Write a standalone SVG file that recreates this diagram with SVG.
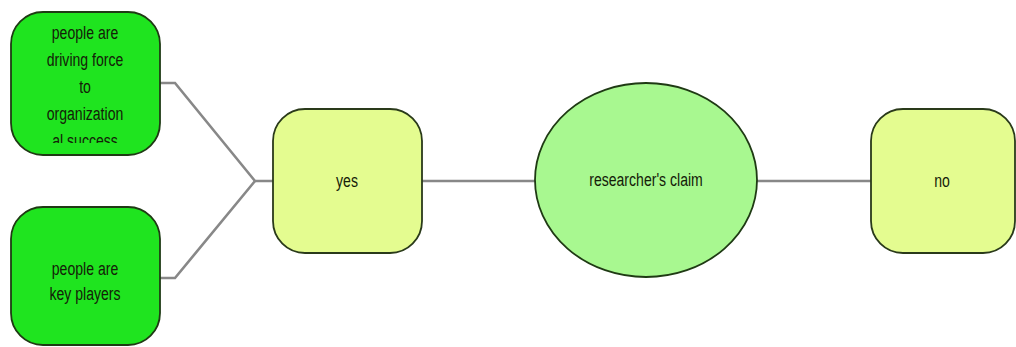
<svg xmlns="http://www.w3.org/2000/svg" width="1016" height="347" viewBox="0 0 1016 347">
  <style>
    .bright { fill: #1fe41f; stroke: #1f3a14; stroke-width: 1.8; }
    .pale { fill: #e4fc90; stroke: #2a3a1a; stroke-width: 1.8; }
    .oval { fill: #a8f890; stroke: #1f3a14; stroke-width: 1.8; }
    .link { fill: none; stroke: #888888; stroke-width: 2.6; }
    .label { font-family: "Liberation Sans", Arial, sans-serif; font-size: 19px; fill: #142008; text-anchor: middle; dominant-baseline: central; }
  </style>
  <defs>
    <clipPath id="clip-force">
      <rect x="11" y="12" width="149" height="131"/>
    </clipPath>
  </defs>
  <rect width="1016" height="347" fill="#ffffff"/>

  <g id="connectors">
    <polyline class="link" points="160,83 175,83 255,181 273,181"/>
    <polyline class="link" points="160,278 175,278 255,181"/>
    <line class="link" x1="422" y1="181" x2="535" y2="181"/>
    <line class="link" x1="757" y1="181" x2="871" y2="181"/>
  </g>

  <g id="node-driving-force">
    <rect class="bright" x="11" y="12" width="149" height="143" rx="32" ry="32"/>
    <g clip-path="url(#clip-force)">
      <text class="label" transform="translate(85,33) scale(0.74,1)">people are</text>
      <text class="label" transform="translate(85,60) scale(0.74,1)">driving force</text>
      <text class="label" transform="translate(85,87) scale(0.74,1)">to</text>
      <text class="label" transform="translate(85,114) scale(0.74,1)">organization</text>
      <text class="label" transform="translate(85,141) scale(0.74,1)">al success</text>
    </g>
  </g>

  <g id="node-key-players">
    <rect class="bright" x="11" y="207" width="149" height="138" rx="32" ry="32"/>
    <text class="label" transform="translate(85,269) scale(0.74,1)">people are</text>
    <text class="label" transform="translate(85,294) scale(0.74,1)">key players</text>
  </g>

  <g id="node-yes">
    <rect class="pale" x="273" y="109" width="149" height="144" rx="32" ry="32"/>
    <text class="label" transform="translate(347,181) scale(0.74,1)">yes</text>
  </g>

  <g id="node-claim">
    <ellipse class="oval" cx="646" cy="180" rx="111" ry="97"/>
    <text class="label" transform="translate(646,180) scale(0.74,1)">researcher's claim</text>
  </g>

  <g id="node-no">
    <rect class="pale" x="871" y="109" width="144" height="144" rx="32" ry="32"/>
    <text class="label" transform="translate(942,181) scale(0.74,1)">no</text>
  </g>
</svg>
